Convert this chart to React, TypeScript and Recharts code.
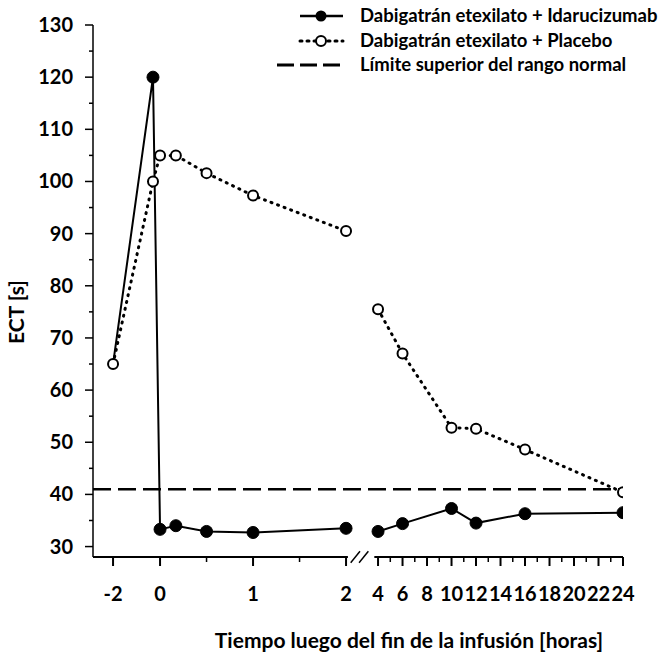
import React from "react";
import { LineChart, Line, XAxis, YAxis, ReferenceLine, Customized } from "recharts";

// tiempo (horas) y ECT [s]
const earlyHours = [-2, -0.3, 0, 0.17, 0.5, 1, 2];
const idaEarly = [65, 120, 33.3, 34.0, 32.9, 32.7, 33.5];
const placeboEarly = [65, 100, 105, 105, 101.6, 97.3, 90.5];

const lateHours = [4, 6, 10, 12, 16, 24];
const idaLate = [32.9, 34.4, 37.3, 34.5, 36.3, 36.5];
const placeboLate = [75.5, 67, 52.8, 52.6, 48.6, 40.4];

const upperNormal = 41;

const xTickLabels = [-2, 0, 1, 2, 4, 6, 8, 10, 12, 14, 16, 18, 20, 22, 24];
const xMinorTicks = [0.5, 1.5, 5, 7, 9, 11, 13, 15, 17, 19, 21, 23];
const yTickLabels = [30, 40, 50, 60, 70, 80, 90, 100, 110, 120, 130];
const yMinorTicks = [35, 45, 55, 65, 75, 85, 95, 105, 115, 125];

const legendNames = [
  "Dabigatrán etexilato + Idarucizumab",
  "Dabigatrán etexilato + Placebo",
  "Límite superior del rango normal",
];

// eje x partido: -2..0 comprimido, 0..2 ancho, 4..24 comprimido
const pos = (h: number) =>
  h < 0 ? h * 0.2527 : h <= 2 ? h : 2.344 + (h - 4) * 0.1317;

const X_MAX = pos(24);
const X_MIN = X_MAX - 530 / 93;
const Y_MIN = 28;

const early = earlyHours.map((h, i) => ({ h, x: pos(h), ida: idaEarly[i], pla: placeboEarly[i] }));
const late = lateHours.map((h, i) => ({ h, x: pos(h), ida: idaLate[i], pla: placeboLate[i] }));

const allXTicks = [...xTickLabels, ...xMinorTicks].sort((a, b) => a - b);

const SANS = "Lato, 'Noto Sans', sans-serif";

const XTick = (props: any) => {
  const { x, y, payload } = props;
  const h = allXTicks.find((t) => Math.abs(pos(t) - payload.value) < 1e-6);
  const major = h !== undefined && xTickLabels.includes(h);
  return (
    <g>
      <line x1={x} x2={x} y1={y} y2={y + (major ? 9 : 5)} stroke="#000" strokeWidth={major ? 2 : 1.5} />
      {major && (
        <text x={x} y={y + 44} textAnchor="middle" fontFamily={SANS} fontWeight="bold" fontSize={20} fill="#000">
          {h}
        </text>
      )}
    </g>
  );
};

const YTick = (props: any) => {
  const { x, y, payload } = props;
  const major = yTickLabels.includes(payload.value);
  return (
    <g>
      <line x1={x - (major ? 8 : 4)} x2={x} y1={y} y2={y} stroke="#000" strokeWidth={1.5} />
      {major && (
        <text x={x - 20} y={y + 7} textAnchor="end" fontFamily={SANS} fontWeight="bold" fontSize={20} fill="#000">
          {payload.value}
        </text>
      )}
    </g>
  );
};

const solidDot = (props: any) => {
  const { cx, cy, payload } = props;
  if (payload.h === -2) return <g key={`s${payload.h}`} />;
  return <circle key={`s${payload.h}`} cx={cx} cy={cy} r={6} fill="#000" stroke="#000" />;
};

const openDot = (props: any) => {
  const { cx, cy, payload } = props;
  return <circle key={`o${payload.h}`} cx={cx} cy={cy} r={5} fill="#fff" stroke="#000" strokeWidth={2} />;
};

const Decorations = () => (
  <g>
    {/* leyenda */}
    <line x1={300} x2={343} y1={16} y2={16} stroke="#000" strokeWidth={2.5} />
    <circle cx={321} cy={16} r={5.5} fill="#000" />
    <line x1={300} x2={343} y1={41} y2={41} stroke="#000" strokeWidth={3} strokeDasharray="2 5" strokeLinecap="round" />
    <circle cx={321} cy={41} r={5} fill="#fff" stroke="#000" strokeWidth={2} />
    <line x1={277} x2={340} y1={65} y2={65} stroke="#000" strokeWidth={3} strokeDasharray="17 6" />
    {legendNames.map((n, i) => (
      <text key={n} x={360} y={[16, 41, 65][i] + 6} fontFamily={SANS} fontWeight="bold" fontSize={18.5} fill="#000">
        {n}
      </text>
    ))}
    {/* títulos de ejes */}
    <text x={409} y={648} textAnchor="middle" fontFamily={SANS} fontWeight="bold" fontSize={21} fill="#000">
      Tiempo luego del fin de la infusión [horas]
    </text>
    <text transform="translate(24,312) rotate(-90)" textAnchor="middle" fontFamily={SANS} fontWeight="bold" fontSize={21} fill="#000">
      ECT [s]
    </text>
  </g>
);

export default function App() {
  return (
    <div style={{ position: "absolute", left: 0, top: 0, width: 661, height: 658, background: "#fff" }}>
      <LineChart width={661} height={658} margin={{ top: 25, right: 38, bottom: 0, left: 0 }}>
        <XAxis
          type="number"
          dataKey="x"
          domain={[X_MIN, X_MAX]}
          allowDataOverflow
          ticks={allXTicks.map(pos)}
          interval={0}
          tick={<XTick />}
          tickLine={false}
          tickSize={0}
          tickMargin={0}
          axisLine={false}
          height={101}
        />
        <YAxis
          type="number"
          domain={[Y_MIN, 130]}
          allowDataOverflow
          ticks={[...yTickLabels, ...yMinorTicks].sort((a, b) => a - b)}
          interval={0}
          tick={<YTick />}
          tickLine={false}
          tickSize={0}
          tickMargin={0}
          axisLine={{ stroke: "#000", strokeWidth: 1.5 }}
          width={93}
        />
        <ReferenceLine y={upperNormal} stroke="#000" strokeWidth={2.5} strokeDasharray="18 7" />
        {/* eje x partido */}
        <ReferenceLine segment={[{ x: X_MIN, y: Y_MIN }, { x: pos(2) + 0.02, y: Y_MIN }]} stroke="#000" strokeWidth={2} ifOverflow="visible" />
        <ReferenceLine segment={[{ x: pos(4) - 0.04, y: Y_MIN }, { x: X_MAX, y: Y_MIN }]} stroke="#000" strokeWidth={2} ifOverflow="visible" />
        <ReferenceLine segment={[{ x: pos(2) + 0.05, y: Y_MIN - 1.1 }, { x: pos(2) + 0.15, y: Y_MIN + 1.1 }]} stroke="#000" strokeWidth={1.5} ifOverflow="visible" />
        <ReferenceLine segment={[{ x: pos(2) + 0.14, y: Y_MIN - 1.1 }, { x: pos(2) + 0.24, y: Y_MIN + 1.1 }]} stroke="#000" strokeWidth={1.5} ifOverflow="visible" />

        <Line data={early} dataKey="ida" stroke="#000" strokeWidth={2} dot={solidDot} isAnimationActive={false} />
        <Line data={late} dataKey="ida" stroke="#000" strokeWidth={2} dot={solidDot} isAnimationActive={false} />
        <Line data={early} dataKey="pla" stroke="#000" strokeWidth={3} strokeDasharray="1 6" strokeLinecap="round" dot={openDot} isAnimationActive={false} />
        <Line data={late} dataKey="pla" stroke="#000" strokeWidth={3} strokeDasharray="1 6" strokeLinecap="round" dot={openDot} isAnimationActive={false} />
        <Customized component={Decorations} />
      </LineChart>
    </div>
  );
}
